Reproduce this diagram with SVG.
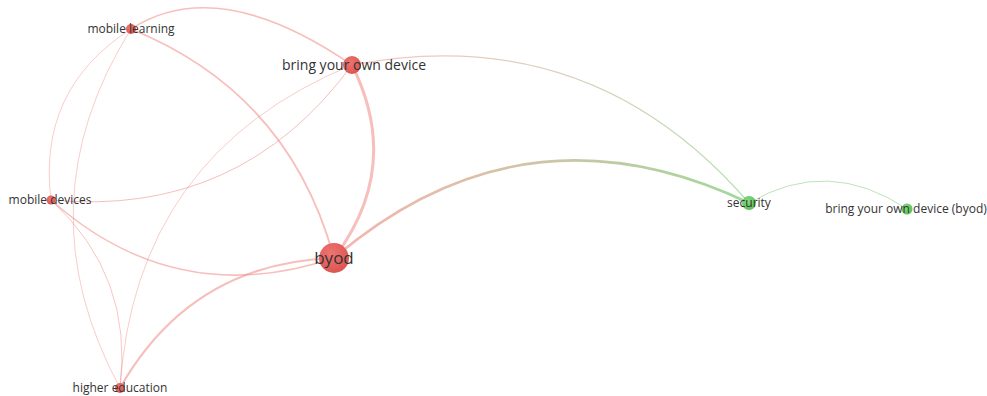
<svg xmlns="http://www.w3.org/2000/svg" width="987" height="396" viewBox="0 0 987 396">
<style>
.e{fill:none;stroke-linecap:round}
.r{stroke:#ee8a84;stroke-opacity:0.55}
.lbl{font-family:"Open Sans","Liberation Sans",sans-serif;fill:#333;text-anchor:middle}
.s12{font-size:12px}
</style>
<defs>
<radialGradient id="nr" cx="0.4" cy="0.35" r="0.65">
<stop offset="0" stop-color="#ee7470"/>
<stop offset="1" stop-color="#dc5652"/>
</radialGradient>
<radialGradient id="ng" cx="0.4" cy="0.35" r="0.65">
<stop offset="0" stop-color="#86d881"/>
<stop offset="1" stop-color="#5cc158"/>
</radialGradient>
<linearGradient id="g1" gradientUnits="userSpaceOnUse" x1="352" y1="65" x2="749" y2="203">
<stop offset="0" stop-color="#f0a09a" stop-opacity="0.6"/>
<stop offset="1" stop-color="#9ad695" stop-opacity="0.75"/>
</linearGradient>
<linearGradient id="g2" gradientUnits="userSpaceOnUse" x1="334" y1="258" x2="749" y2="203">
<stop offset="0" stop-color="#ee8f88" stop-opacity="0.65"/>
<stop offset="1" stop-color="#90d28b" stop-opacity="0.85"/>
</linearGradient>
</defs>
<rect width="987" height="396" fill="#fff"/>
<g id="edges">
<path class="e r" d="M131,29 Q218,-27 352,65" stroke-width="1.6"/>
<path class="e r" d="M131,29 Q289,93 334,258" stroke-width="1.8"/>
<path class="e r" d="M131,29 Q37,89 51,200" stroke-width="0.8"/>
<path class="e r" d="M131,29 Q21,205 120,388" stroke-width="0.8"/>
<path class="e r" d="M352,65 Q403,167 334,258" stroke-width="3"/>
<path class="e r" d="M352,65 Q240,218 51,200" stroke-width="1"/>
<path class="e r" d="M352,65 Q135,154 120,388" stroke-width="0.8"/>
<path class="e r" d="M51,200 Q176,311 334,258" stroke-width="1.5"/>
<path class="e r" d="M120,388 Q191,263 334,258" stroke-width="2.2"/>
<path class="e r" d="M51,200 Q134,276 120,388" stroke-width="0.9"/>
<path class="e" d="M352,65 Q590,19 749,203" stroke="url(#g1)" stroke-width="1.3"/>
<path class="e" d="M334,258 Q524,96 749,203" stroke="url(#g2)" stroke-width="2.6"/>
<path class="e" d="M749,203 Q828,156 907,209" stroke="#8fd18a" stroke-opacity="0.6" stroke-width="1"/>
</g>
<g id="n-mobile-learning">
<circle cx="131" cy="29" r="5" fill="url(#nr)"/>
<text class="lbl s12" x="131" y="33">mobile learning</text>
</g>
<g id="n-bring-your-own-device">
<circle cx="352" cy="65" r="9" fill="url(#nr)"/>
<text class="lbl" x="354" y="70" font-size="14">bring your own device</text>
</g>
<g id="n-mobile-devices">
<circle cx="51" cy="200" r="4.5" fill="url(#nr)"/>
<text class="lbl s12" x="50" y="204">mobile devices</text>
</g>
<g id="n-byod">
<circle cx="334" cy="258" r="15" fill="url(#nr)"/>
<text class="lbl" x="334" y="264" font-size="17">byod</text>
</g>
<g id="n-higher-education">
<circle cx="120" cy="388" r="5" fill="url(#nr)"/>
<text class="lbl s12" x="120" y="392">higher education</text>
</g>
<g id="n-security">
<circle cx="749" cy="203" r="7" fill="url(#ng)"/>
<text class="lbl s12" x="749" y="207">security</text>
</g>
<g id="n-byod-full">
<circle cx="907" cy="209" r="5.5" fill="url(#ng)"/>
<text class="lbl s12" x="906" y="213">bring your own device (byod)</text>
</g>
</svg>
